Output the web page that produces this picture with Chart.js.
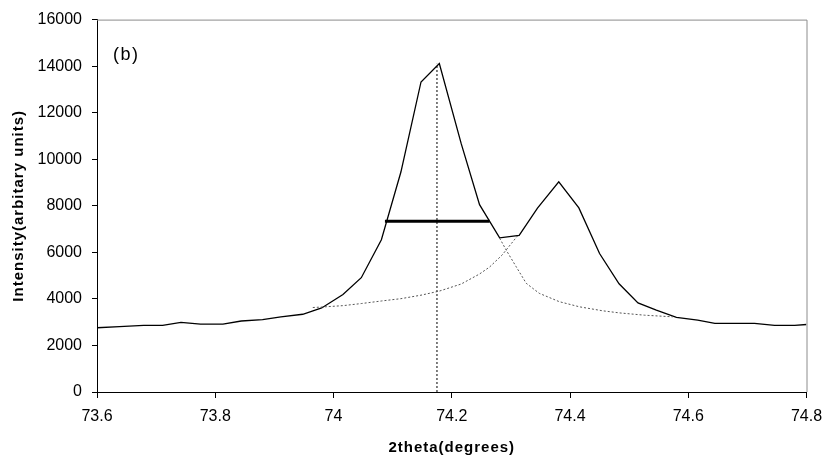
<!DOCTYPE html>
<html>
<head>
<meta charset="utf-8">
<script src="https://cdn.jsdelivr.net/npm/chart.js@4"></script>
<style>
  body { margin: 0; background: #fff; }
  #wrap { width: 828px; height: 463px; }
</style>
</head>
<body>
<div id="wrap"><canvas id="xrd_chart" width="828" height="463"></canvas></div>
<script>
// measured profile (solid line)
const twoTheta = [73.600, 73.638, 73.679, 73.711, 73.742, 73.775, 73.813, 73.844, 73.880, 73.911,
    73.948, 73.980, 74.016, 74.047, 74.081, 74.114, 74.148, 74.179, 74.216, 74.247,
    74.281, 74.314, 74.345, 74.381, 74.415, 74.450, 74.483, 74.515, 74.546, 74.580,
    74.616, 74.645, 74.678, 74.712, 74.746, 74.780, 74.800]
const intensity = [2760, 2810, 2860, 2860, 2990, 2920, 2920, 3050, 3110, 3230,
    3340, 3610, 4190, 4910, 6540, 9450, 13320, 14110, 10670, 8050,
    6620, 6730, 7900, 9030, 7910, 5950, 4650, 3830, 3520, 3210,
    3090, 2950, 2950, 2950, 2860, 2860, 2900]

// second peak, left tail (dotted)
const fit2X = [73.965, 73.980, 74.016, 74.047, 74.081, 74.114, 74.148, 74.179, 74.216, 74.247, 74.264, 74.285, 74.311]
const fit2Y = [3630, 3650, 3710, 3800, 3910, 4010, 4160, 4335, 4640, 5070, 5370, 5880, 6700]

// first peak, right tail (dotted)
const fit1X = [74.281, 74.292, 74.309, 74.326, 74.348, 74.382, 74.416, 74.455, 74.483, 74.526, 74.574]
const fit1Y = [6610, 6100, 5380, 4670, 4240, 3880, 3660, 3490, 3400, 3300, 3230]

// peak position and half-maximum width
const peakPos = 74.175
const peakMax = 14100
const fwhmY = 7340
const fwhmFrom = 74.087
const fwhmTo = 74.264

const xTicks = [73.6, 73.8, 74, 74.2, 74.4, 74.6, 74.8]

const xTitle = '2theta(degrees)'
const yTitle = 'Intensity(arbitary units)'
const panel = '(b)'

const FONT = '"Liberation Sans", Arial, sans-serif'

function pts(xs, ys) {
    return xs.map((x, i) => ({x: x, y: ys[i]}))
}

// gray frame on top/right, panel letter and the (slightly spaced) axis titles
const frame = {
    id: 'frame',
    afterDraw(chart) {
        let a = chart.chartArea
        let c = chart.ctx
        c.save()
        c.strokeStyle = '#8c8c8c'
        c.lineWidth = 1
        c.beginPath()
        c.moveTo(a.left, a.top + 0.5)
        c.lineTo(a.right + 0.5, a.top + 0.5)
        c.lineTo(a.right + 0.5, a.bottom)
        c.stroke()
        c.fillStyle = '#000'
        c.font = '18px ' + FONT
        c.letterSpacing = '1.5px'
        c.textBaseline = 'middle'
        c.fillText(panel, 113, 55)

        c.font = 'bold 15px ' + FONT
        c.letterSpacing = '1px'
        c.textAlign = 'center'
        c.textBaseline = 'alphabetic'
        c.fillText(xTitle, (a.left + a.right) / 2, 452)
        c.translate(22.5, (a.top + a.bottom) / 2)
        c.rotate(-Math.PI / 2)
        c.fillText(yTitle, 0, 0)
        c.restore()
    }
}

const line = (data, opts) => Object.assign({
    data: data, showLine: true, pointRadius: 0, borderColor: '#000',
    borderWidth: 1.3, fill: false, tension: 0
}, opts)

let ctx = document.getElementById('xrd_chart').getContext('2d')
let chart = new Chart(ctx, {
    type: 'scatter',
    data: {
        datasets: [
            line(pts(fit2X, fit2Y), {borderColor: '#555', borderWidth: 1, borderDash: [2, 2]}),
            line(pts(fit1X, fit1Y), {borderColor: '#555', borderWidth: 1, borderDash: [2, 2]}),
            line([{x: peakPos, y: 0}, {x: peakPos, y: peakMax}], {borderWidth: 1, borderDash: [2, 2]}),
            line(pts(twoTheta, intensity), {}),
            line([{x: fwhmFrom, y: fwhmY}, {x: fwhmTo, y: fwhmY}], {borderWidth: 3})
        ]
    },
    options: {
        responsive: false,
        animation: false,
        layout: {padding: {top: 19, right: 21.5, left: 0, bottom: 0}},
        plugins: {legend: {display: false}, tooltip: {enabled: false}},
        scales: {
            x: {
                type: 'linear', min: 73.6, max: 74.8,
                afterBuildTicks: s => { s.ticks = xTicks.map(v => ({value: v})) },
                afterFit: s => { s.height = 71; s.paddingRight = 0 },
                grid: {drawOnChartArea: false, tickLength: 6, color: '#000'},
                border: {color: '#000', width: 1},
                ticks: {color: '#000', padding: 9, maxRotation: 0,
                    font: {family: FONT, size: 16},
                    callback: v => String(Math.round(v * 10) / 10)}
            },
            y: {
                min: 0, max: 16000,
                ticks: {stepSize: 2000, color: '#000', padding: 10,
                    font: {family: FONT, size: 16},
                    callback: v => String(v)},
                afterFit: s => { s.width = 97 },
                grid: {drawOnChartArea: false, tickLength: 5, color: '#000'},
                border: {color: '#000', width: 1}
            }
        }
    },
    plugins: [frame]
})
</script>
</body>
</html>
